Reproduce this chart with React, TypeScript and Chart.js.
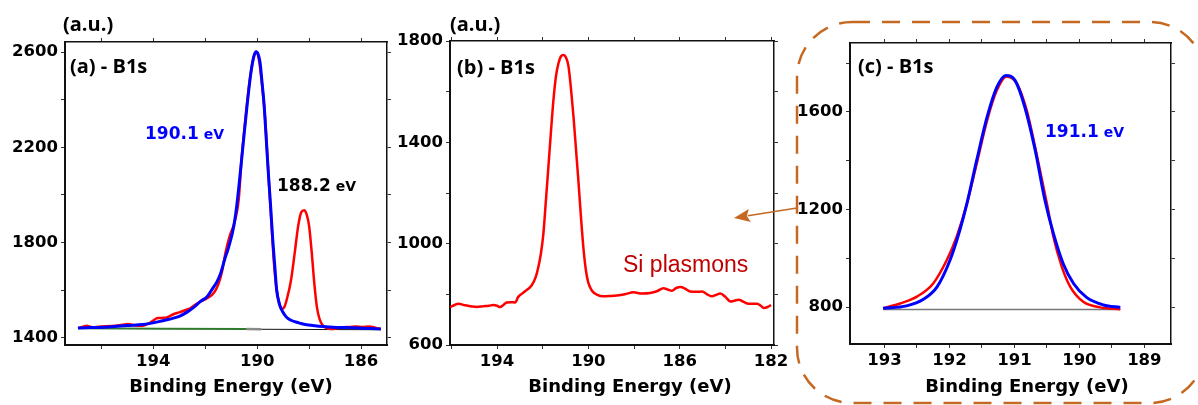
import React, { useEffect, useRef } from "react";
import { Chart, registerables } from "chart.js";

Chart.register(...registerables);

const W = 1198;
const H = 405;

// ---------------- Panel (a) ----------------
const A_RED_EV = [196.9, 196.7, 196.56, 196.4, 196.25, 196.0, 195.6, 195.3, 194.97, 194.7, 194.4, 194.1, 193.83, 193.6, 193.45, 193.2, 193.0, 192.8, 192.56, 192.4, 192.18, 191.95, 191.73, 191.6, 191.48, 191.35, 191.22, 191.05, 190.9, 190.71, 190.6, 190.45, 190.3, 190.15, 190.04, 189.92, 189.8, 189.7, 189.57, 189.45, 189.35, 189.25, 189.15, 189.05, 188.95, 188.85, 188.7, 188.55, 188.42, 188.3, 188.19, 188.1, 188.0, 187.9, 187.8, 187.7, 187.6, 187.47, 187.3, 187.15, 186.9, 186.71, 186.45, 186.19, 185.95, 185.69, 185.45, 185.24];
const A_RED_CPS = [1441, 1447, 1451, 1446, 1445, 1448, 1450, 1453, 1458, 1452, 1451, 1465, 1483, 1484, 1487, 1500, 1507, 1515, 1525, 1538, 1553, 1565, 1581, 1600, 1630, 1680, 1757, 1830, 1875, 1981, 2150, 2320, 2470, 2570, 2601, 2560, 2450, 2330, 2093, 1880, 1710, 1602, 1545, 1522, 1530, 1565, 1640, 1760, 1870, 1928, 1936, 1920, 1870, 1760, 1630, 1530, 1480, 1452, 1440, 1437, 1441, 1445, 1446, 1448, 1446, 1448, 1443, 1437];
const A_FIT_EV = [196.9, 196.4, 195.9, 195.6, 195.0, 194.4, 193.83, 193.4, 193.0, 192.7, 192.43, 192.18, 191.92, 191.7, 191.55, 191.41, 191.25, 191.1, 190.9, 190.78, 190.65, 190.52, 190.39, 190.28, 190.2, 190.12, 190.04, 189.96, 189.89, 189.81, 189.73, 189.65, 189.57, 189.48, 189.4, 189.32, 189.25, 189.15, 189.06, 188.9, 188.74, 188.4, 188.1, 187.6, 187.09, 186.6, 186.07, 185.6, 185.24];
const A_FIT_CPS = [1441, 1443, 1445, 1447, 1452, 1456, 1467, 1478, 1490, 1508, 1529, 1553, 1574, 1610, 1635, 1670, 1730, 1780, 1869, 1960, 2093, 2235, 2374, 2480, 2542, 2585, 2601, 2590, 2557, 2470, 2374, 2235, 2093, 1950, 1813, 1700, 1602, 1545, 1518, 1490, 1476, 1463, 1455, 1449, 1445, 1443, 1441, 1439, 1437];
const A_BG_GREEN_EV = [196.9, 190.4];
const A_BG_GREEN_CPS = [1440, 1437];
const A_BG_GRAY_EV = [190.4, 189.85];
const A_BG_GRAY_CPS = [1437, 1436];
const A_BG_BLACK_EV = [189.85, 185.24];
const A_BG_BLACK_CPS = [1436, 1434];
const A_X_TICKS = [196, 194, 192, 190, 188, 186];
const A_X_LABELS = [194, 190, 186];
const A_Y_TICKS = [1400, 1600, 1800, 2000, 2200, 2400, 2600];
const A_Y_LABELS = [1400, 1800, 2200, 2600];

// ---------------- Panel (b) ----------------
const B_EV = [196.06, 195.85, 195.7, 195.4, 195.1, 194.89, 194.6, 194.35, 194.16, 194.0, 193.87, 193.72, 193.58, 193.4, 193.21, 193.07, 192.8, 192.48, 192.3, 192.19, 192.08, 191.97, 191.86, 191.75, 191.64, 191.53, 191.42, 191.31, 191.2, 191.09, 190.98, 190.87, 190.76, 190.65, 190.54, 190.43, 190.32, 190.21, 190.1, 190.0, 189.85, 189.63, 189.34, 189.05, 188.75, 188.4, 188.02, 187.65, 187.29, 187.0, 186.71, 186.5, 186.34, 186.15, 185.97, 185.75, 185.54, 185.25, 185.02, 184.8, 184.58, 184.4, 184.22, 184.0, 183.78, 183.6, 183.42, 183.2, 182.98, 182.61, 182.45, 182.32, 182.15, 182.0];
const B_CPS = [750, 758, 763, 757, 752, 750, 753, 755, 758, 755, 750, 758, 768, 769, 768, 790, 810, 836, 870, 908, 960, 1040, 1170, 1304, 1440, 1567, 1660, 1712, 1740, 1745, 1735, 1700, 1610, 1500, 1370, 1240, 1100, 976, 890, 845, 815, 799, 792, 793, 795, 800, 808, 803, 805, 812, 824, 818, 814, 825, 829, 822, 811, 810, 811, 800, 792, 798, 803, 790, 772, 775, 779, 770, 763, 763, 755, 746, 750, 758];
const B_X_TICKS = [196, 194, 192, 190, 188, 186, 184, 182];
const B_X_LABELS = [194, 190, 186, 182];
const B_Y_TICKS = [600, 800, 1000, 1200, 1400, 1600, 1800];
const B_Y_LABELS = [600, 1000, 1400, 1800];

// ---------------- Panel (c) ----------------
const C_RED_EV = [193.02, 192.76, 192.5, 192.25, 192.04, 191.89, 191.73, 191.58, 191.42, 191.27, 191.12, 190.96, 190.81, 190.66, 190.5, 190.4, 190.27, 190.14, 189.94, 189.68, 189.37];
const C_RED_CPS = [795, 815, 843, 897, 993, 1088, 1225, 1388, 1565, 1688, 1745, 1715, 1606, 1429, 1225, 1088, 965, 883, 822, 799, 791];
const C_FIT_EV = [193.02, 192.66, 192.4, 192.19, 191.99, 191.84, 191.73, 191.58, 191.42, 191.27, 191.13, 190.99, 190.84, 190.68, 190.53, 190.4, 190.25, 190.09, 189.89, 189.63, 189.37];
const C_FIT_CPS = [795, 805, 832, 883, 993, 1115, 1225, 1402, 1579, 1701, 1749, 1729, 1620, 1443, 1238, 1102, 979, 897, 840, 809, 799];
const C_BG_EV = [193.02, 189.37];
const C_BG_CPS = [790, 790];
const C_X_TICKS = [193, 192.5, 192, 191.5, 191, 190.5, 190, 189.5, 189];
const C_X_LABELS = [193, 192, 191, 190, 189];
const C_Y_TICKS = [800, 1000, 1200, 1400, 1600, 1800];
const C_Y_LABELS = [800, 1200, 1600];

const RED = "#ff0000";
const BLUE = "#0000ff";
const ORANGE = "rgb(197,104,34)";

const LABEL_FONT = "bold 20px 'Open Sans'";
const NUM_FONT = "bold 17px 'DejaVu Sans'";
const EV_FONT = "bold 14px 'DejaVu Sans'";
const TITLE_FONT = "bold 18px 'DejaVu Sans'";
const SI_FONT = "23px 'Liberation Sans'";

type Part = { t: string; font: string; color: string };
type Label = { x: number; y: number; parts: Part[]; align?: "left" | "center"; baseline?: CanvasTextBaseline };

const zip = (xs: number[], ys: number[]) => xs.slice(0, Math.min(xs.length, ys.length)).map((x, i) => ({ x, y: ys[i] }));

const textPlugin = {
  id: "panelText",
  afterDraw(chart: any, _args: any, opts: any) {
    const ctx: CanvasRenderingContext2D = chart.ctx;
    const labels: Label[] = (opts && opts.labels) || [];
    ctx.save();
    for (const l of labels) {
      ctx.textBaseline = l.baseline || "middle";
      ctx.textAlign = "left";
      let total = 0;
      for (const p of l.parts) {
        ctx.font = p.font;
        total += ctx.measureText(p.t).width;
      }
      let x = l.align === "center" ? l.x - total / 2 : l.x;
      for (const p of l.parts) {
        ctx.font = p.font;
        ctx.fillStyle = p.color;
        ctx.fillText(p.t, x, l.y);
        x += ctx.measureText(p.t).width;
      }
    }
    ctx.restore();
  },
};

const decorPlugin = {
  id: "decor",
  afterDraw(chart: any, _args: any, opts: any) {
    if (!opts || !opts.enabled) return;
    const ctx: CanvasRenderingContext2D = chart.ctx;
    ctx.save();
    ctx.strokeStyle = ORANGE;
    ctx.lineWidth = 2.5;
    ctx.setLineDash([18, 12]);
    ctx.beginPath();
    (ctx as any).roundRect(797, 22, 408, 381, 55);
    ctx.stroke();
    ctx.setLineDash([]);
    // arrow
    const sx = 797, sy = 208, tx = 734, ty = 218;
    const dx = tx - sx, dy = ty - sy;
    const len = Math.hypot(dx, dy);
    const ux = dx / len, uy = dy / len;
    const nx = -uy, ny = ux;
    const hl = 16, hw = 6.5;
    const bx = tx - ux * hl, by = ty - uy * hl;
    ctx.lineWidth = 1.6;
    ctx.beginPath();
    ctx.moveTo(sx, sy);
    ctx.lineTo(bx + ux * 2, by + uy * 2);
    ctx.stroke();
    ctx.fillStyle = ORANGE;
    ctx.beginPath();
    ctx.moveTo(tx, ty);
    ctx.lineTo(bx + nx * hw, by + ny * hw);
    ctx.lineTo(bx + ux * 3, by + uy * 3);
    ctx.lineTo(bx - nx * hw, by - ny * hw);
    ctx.closePath();
    ctx.fill();
    ctx.restore();
  },
};

type Panel = {
  area: { left: number; right: number; top: number; bottom: number };
  xMin: number; xMax: number; yMin: number; yMax: number;
  xTicks: number[]; xLabels: number[]; yTicks: number[]; yLabels: number[];
  datasets: any[];
  labels: Label[];
  decor?: boolean;
};

const line = (data: { x: number; y: number }[], color: string, width: number) => ({
  data,
  borderColor: color,
  borderWidth: width,
  pointRadius: 0,
  fill: false,
  tension: 0.4,
  cubicInterpolationMode: "monotone",
});

const PANELS: Panel[] = [
  {
    area: { left: 65, right: 387, top: 42, bottom: 345 },
    xMin: 185.0, xMax: 197.4, yMin: 1370, yMax: 2642,
    xTicks: A_X_TICKS, xLabels: A_X_LABELS, yTicks: A_Y_TICKS, yLabels: A_Y_LABELS,
    datasets: [
      line(zip(A_FIT_EV, A_FIT_CPS), BLUE, 3),
      line(zip(A_RED_EV, A_RED_CPS), RED, 2.5),
      line(zip(A_BG_GRAY_EV, A_BG_GRAY_CPS), "#8a8a8a", 2.5),
      line(zip(A_BG_GREEN_EV, A_BG_GREEN_CPS), "#2f7a2f", 2),
      line(zip(A_BG_BLACK_EV, A_BG_BLACK_CPS), "#111111", 1),
    ],
    labels: [
      { x: 63, y: 25, parts: [{ t: "(a.u.)", font: LABEL_FONT, color: "#000" }] },
      { x: 70, y: 67, parts: [{ t: "(a) - B1s", font: LABEL_FONT, color: "#000" }] },
      { x: 145, y: 135, parts: [{ t: "190.1", font: NUM_FONT, color: BLUE }, { t: " eV", font: EV_FONT, color: BLUE }] },
      { x: 277, y: 187, parts: [{ t: "188.2", font: NUM_FONT, color: "#000" }, { t: " eV", font: EV_FONT, color: "#000" }] },
      { x: 231, y: 387, align: "center", parts: [{ t: "Binding Energy (eV)", font: TITLE_FONT, color: "#000" }] },
    ],
  },
  {
    area: { left: 450, right: 774, top: 41, bottom: 345 },
    xMin: 181.87, xMax: 196.06, yMin: 600, yMax: 1800,
    xTicks: B_X_TICKS, xLabels: B_X_LABELS, yTicks: B_Y_TICKS, yLabels: B_Y_LABELS,
    datasets: [line(zip(B_EV, B_CPS), RED, 2.5)],
    labels: [
      { x: 450, y: 25, parts: [{ t: "(a.u.)", font: LABEL_FONT, color: "#000" }] },
      { x: 457, y: 68, parts: [{ t: "(b) - B1s", font: LABEL_FONT, color: "#000" }] },
      { x: 623, y: 272, baseline: "alphabetic", parts: [{ t: "Si plasmons", font: SI_FONT, color: "#c00000" }] },
      { x: 630, y: 387, align: "center", parts: [{ t: "Binding Energy (eV)", font: TITLE_FONT, color: "#000" }] },
    ],
  },
  {
    area: { left: 850, right: 1171, top: 43, bottom: 344 },
    xMin: 188.59, xMax: 193.53, yMin: 649, yMax: 1882,
    xTicks: C_X_TICKS, xLabels: C_X_LABELS, yTicks: C_Y_TICKS, yLabels: C_Y_LABELS,
    datasets: [
      line(zip(C_FIT_EV, C_FIT_CPS), BLUE, 3),
      line(zip(C_RED_EV, C_RED_CPS), RED, 2.5),
      line(zip(C_BG_EV, C_BG_CPS), "#777777", 1.5),
    ],
    labels: [
      { x: 858, y: 67, parts: [{ t: "(c) - B1s", font: LABEL_FONT, color: "#000" }] },
      { x: 1045, y: 133, parts: [{ t: "191.1", font: NUM_FONT, color: BLUE }, { t: " eV", font: EV_FONT, color: BLUE }] },
      { x: 1027, y: 387, align: "center", parts: [{ t: "Binding Energy (eV)", font: TITLE_FONT, color: "#000" }] },
    ],
    decor: true,
  },
];

const TICK_FONT = { family: "'DejaVu Sans'", size: 16.5, weight: "bold" as const };

function buildConfig(p: Panel): any {
  const grid = { drawOnChartArea: false, drawTicks: true, tickLength: 4, color: "#333", lineWidth: 1 };
  const xBase = (position: "bottom" | "top") => ({
    type: "linear",
    position,
    reverse: true,
    min: p.xMin,
    max: p.xMax,
    afterBuildTicks: (s: any) => {
      s.ticks = p.xTicks.map((v) => ({ value: v }));
    },
    afterFit: (s: any) => {
      s.height = position === "bottom" ? H - p.area.bottom : p.area.top;
    },
    ticks: {
      display: position === "bottom",
      autoSkip: false,
      maxRotation: 0,
      minRotation: 0,
      padding: 3,
      font: TICK_FONT,
      color: "#000",
      callback: (v: number) => (p.xLabels.includes(v) ? String(v) : ""),
    },
    grid,
    border: { display: true, color: "#111", width: position === "bottom" ? 2 : 1.5 },
  });
  const yBase = (position: "left" | "right") => ({
    type: "linear",
    position,
    min: p.yMin,
    max: p.yMax,
    afterBuildTicks: (s: any) => {
      s.ticks = p.yTicks.map((v) => ({ value: v }));
    },
    afterFit: (s: any) => {
      s.width = position === "left" ? p.area.left : W - p.area.right;
    },
    ticks: {
      display: position === "left",
      autoSkip: false,
      padding: 3,
      font: TICK_FONT,
      color: "#000",
      callback: (v: number) => (p.yLabels.includes(v) ? String(v) : ""),
    },
    grid,
    border: { display: true, color: "#111", width: position === "left" ? 2 : 1.5 },
  });
  return {
    type: "line",
    data: { datasets: p.datasets.map((d) => ({ ...d, xAxisID: "x", yAxisID: "y" })) },
    options: {
      responsive: false,
      devicePixelRatio: 1,
      animation: false,
      events: [],
      layout: { padding: 0 },
      plugins: {
        legend: { display: false },
        tooltip: { enabled: false },
        title: { display: false },
        panelText: { labels: p.labels },
        decor: { enabled: !!p.decor },
      },
      scales: {
        x: xBase("bottom"),
        x2: xBase("top"),
        y: yBase("left"),
        y2: yBase("right"),
      },
    },
    plugins: [textPlugin, decorPlugin],
  };
}

export default function App() {
  const r0 = useRef<HTMLCanvasElement>(null);
  const r1 = useRef<HTMLCanvasElement>(null);
  const r2 = useRef<HTMLCanvasElement>(null);

  useEffect(() => {
    const refs = [r0, r1, r2];
    const charts = PANELS.map((p, i) => new Chart(refs[i].current as HTMLCanvasElement, buildConfig(p)));
    return () => charts.forEach((c) => c.destroy());
  }, []);

  const cs: React.CSSProperties = { position: "absolute", left: 0, top: 0, width: W, height: H };
  return (
    <div style={{ position: "absolute", left: 0, top: 0, width: W, height: H, background: "#fff", overflow: "hidden" }}>
      <canvas ref={r0} width={W} height={H} style={cs} />
      <canvas ref={r1} width={W} height={H} style={cs} />
      <canvas ref={r2} width={W} height={H} style={cs} />
    </div>
  );
}
